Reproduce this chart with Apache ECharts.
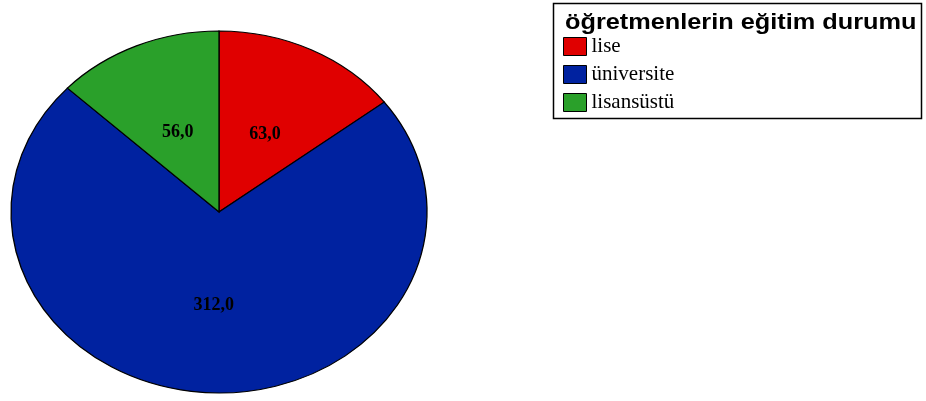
<!DOCTYPE html>
<html>
<head>
<meta charset="utf-8">
<script src="https://cdn.jsdelivr.net/npm/echarts@6/dist/echarts.min.js"></script>
<style>
  html, body { margin: 0; padding: 0; background: #fff; }
  #chart { width: 926px; height: 401px; }
</style>
</head>
<body>
<div id="chart"></div>
<script>
// Education level of teachers: counts per category
const categories = ['lise', 'üniversite', 'lisansüstü'];
const counts = [63, 312, 56];
const colors = ['#e00000', '#0022a0', '#2aa02a'];
const legendTitle = 'öğretmenlerin eğitim durumu';

// Elliptical pie geometry
const CX = 219, CY = 212, RX = 208, RY = 181;
const total = counts.reduce((a, b) => a + b, 0);

function fmt(v) {
  return v.toFixed(1).replace('.', ',');
}

function sliceRenderer(index) {
  return function (params, api) {
    const v = api.value(0);
    let before = 0;
    for (let k = 0; k < index; k++) before += counts[k];
    const start = -Math.PI / 2 + 2 * Math.PI * before / total;
    const end = start + 2 * Math.PI * v / total;
    const mid = (start + end) / 2;
    return {
      type: 'group',
      children: [
        {
          type: 'sector',
          shape: { cx: CX, cy: CY, r: RX, r0: 0, startAngle: start, endAngle: end, clockwise: true },
          scaleY: RY / RX,
          originX: CX,
          originY: CY,
          style: { fill: api.visual('color'), stroke: '#000', lineWidth: 1.3, strokeNoScale: true }
        },
        {
          type: 'text',
          x: CX + 0.5 * RX * Math.cos(mid),
          y: CY + 0.5 * RY * Math.sin(mid) + 3,
          z2: 10,
          style: {
            text: fmt(v),
            fill: '#000',
            font: 'bold 18px "Liberation Serif"',
            align: 'center',
            verticalAlign: 'middle'
          }
        }
      ]
    };
  };
}

const series = categories.map((name, i) => ({
  type: 'custom',
  name: name,
  coordinateSystem: 'none',
  itemStyle: { color: colors[i] },
  data: [[counts[i]]],
  renderItem: sliceRenderer(i)
}));

const chart = echarts.init(document.getElementById('chart'), null, { renderer: 'canvas' });
chart.setOption({
  backgroundColor: '#fff',
  animation: false,
  legend: {
    orient: 'vertical',
    left: 563,
    top: 36,
    padding: 0,
    itemWidth: 23,
    itemHeight: 18,
    itemGap: 7,
    icon: 'rect',
    selectedMode: false,
    data: categories,
    itemStyle: { borderColor: '#000', borderWidth: 1 },
    textStyle: { fontFamily: '"Liberation Serif"', fontSize: 21, color: '#000', lineHeight: 18, padding: [0, 0, 0, 0] }
  },
  graphic: [
    {
      type: 'rect',
      shape: { x: 553.5, y: 3.5, width: 368, height: 115 },
      style: { fill: 'none', stroke: '#000', lineWidth: 1.5 }
    },
    {
      type: 'text',
      x: 565,
      y: 12,
      scaleX: 1.15,
      originX: 0,
      style: {
        text: legendTitle,
        fill: '#000',
        font: 'bold 22px "Liberation Sans"',
        verticalAlign: 'top'
      }
    }
  ],
  series: series
});
</script>
</body>
</html>
